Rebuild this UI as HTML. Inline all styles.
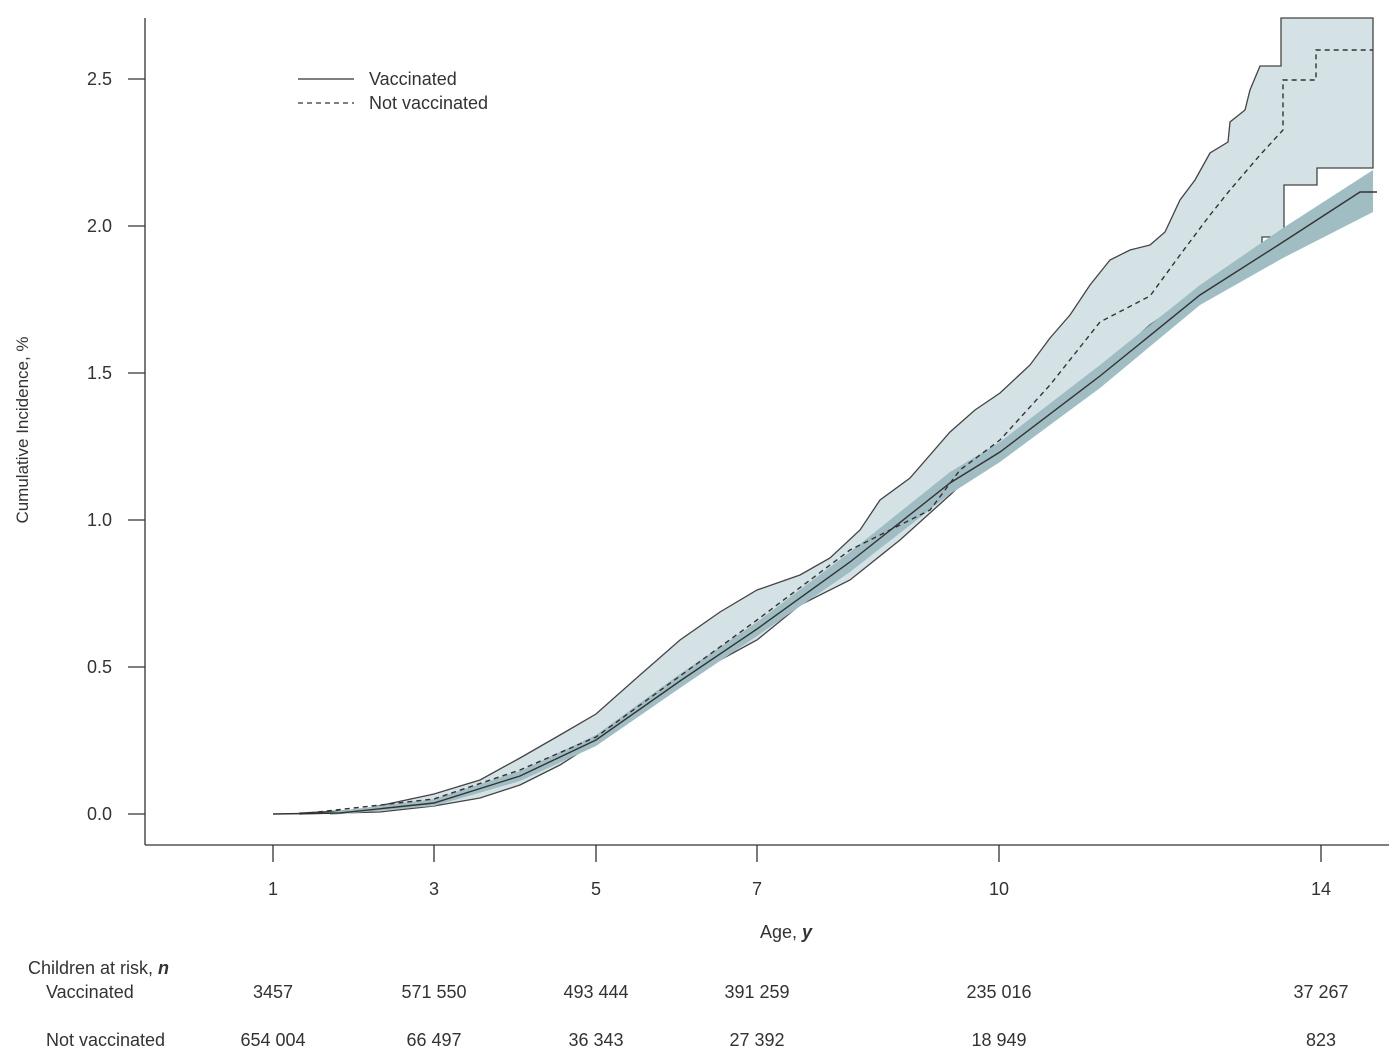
<!DOCTYPE html>
<html><head><meta charset="utf-8"><style>
body{margin:0;background:#fff}
text{font-family:"Liberation Sans",sans-serif;fill:#333}
</style></head><body>
<svg width="1389" height="1055" viewBox="0 0 1389 1055" xmlns="http://www.w3.org/2000/svg">
<!-- not vaccinated CI band -->
<polygon fill="#d5e2e5" stroke="#444" stroke-width="1.3" points="300,813 360,810 434,794 480,780 520,758 560,735 596,714 640,675 680,640 720,612 757,590 800,575 830,558 860,530 880,500 910,478 950,432 975,410 1000,393 1030,365 1050,338 1070,315 1090,285 1110,260 1130,250 1150,245 1165,232 1180,200 1195,180 1210,153 1228,142 1230,122 1245,110 1250,90 1260,66 1281,66 1281,18 1373,18 1373,168 1317,168 1317,185 1284,185 1284,237 1262,237 1262,248 1254,250 1240,260 1200,290 1150,325 1100,370 1050,405 1000,448 950,495 900,540 850,580 800,605 757,640 720,660 680,680 640,705 596,742 560,765 520,785 480,798 434,806 380,812 300,814"/>
<!-- vaccinated CI band -->
<polygon fill="#9fbdc3" points="330,812 434,799 520,771 596,735 680,674 757,622 850,552 950,472 1000,442 1100,365 1200,285 1283,228 1373,170 1373,212 1283,258 1200,305 1100,388 1000,462 950,494 850,572 757,636 680,688 596,746 520,781 434,806 330,815"/>
<!-- vaccinated line -->
<polyline fill="none" stroke="#333" stroke-width="1.4" points="273,814 340,813 434,803 520,776 596,740 680,681 757,629 850,562 950,483 1000,452 1100,376 1200,295 1283,242 1360,192 1377,192"/>
<!-- not vaccinated dashed -->
<polyline fill="none" stroke="#333" stroke-width="1.4" stroke-dasharray="5,4" points="300,814 434,799 520,770 596,737 680,676 757,620 850,550 930,510 960,470 1000,440 1050,385 1100,322 1150,296 1180,255 1210,215 1230,190 1260,155 1283,130 1283,80 1316,80 1316,50 1373,50"/>
<!-- axes -->
<line x1="145" y1="18" x2="145" y2="845" stroke="#333" stroke-width="1.3"/>
<line x1="145" y1="845" x2="1389" y2="845" stroke="#333" stroke-width="1.3"/>
<g stroke="#333" stroke-width="1.3">
<line x1="128" y1="814" x2="145" y2="814"/><line x1="128" y1="667" x2="145" y2="667"/><line x1="128" y1="520" x2="145" y2="520"/><line x1="128" y1="373" x2="145" y2="373"/><line x1="128" y1="226" x2="145" y2="226"/><line x1="128" y1="79" x2="145" y2="79"/>
<line x1="273" y1="845" x2="273" y2="862"/><line x1="434" y1="845" x2="434" y2="862"/><line x1="596" y1="845" x2="596" y2="862"/><line x1="757" y1="845" x2="757" y2="862"/><line x1="999" y1="845" x2="999" y2="862"/><line x1="1321" y1="845" x2="1321" y2="862"/>
</g>
<g font-size="18" text-anchor="end">
<text x="112" y="820">0.0</text><text x="112" y="673">0.5</text><text x="112" y="526">1.0</text><text x="112" y="379">1.5</text><text x="112" y="232">2.0</text><text x="112" y="85">2.5</text>
</g>
<g font-size="18" text-anchor="middle">
<text x="273" y="895">1</text><text x="434" y="895">3</text><text x="596" y="895">5</text><text x="757" y="895">7</text><text x="999" y="895">10</text><text x="1321" y="895">14</text>
<text x="786" y="938">Age, <tspan font-weight="bold" font-style="italic">y</tspan></text>
<text x="273" y="998">3457</text><text x="434" y="998">571 550</text><text x="596" y="998">493 444</text><text x="757" y="998">391 259</text><text x="999" y="998">235 016</text><text x="1321" y="998">37 267</text>
<text x="273" y="1046">654 004</text><text x="434" y="1046">66 497</text><text x="596" y="1046">36 343</text><text x="757" y="1046">27 392</text><text x="999" y="1046">18 949</text><text x="1321" y="1046">823</text>
</g>
<text x="28" y="974" font-size="18">Children at risk, <tspan font-weight="bold" font-style="italic">n</tspan></text>
<text x="46" y="998" font-size="18">Vaccinated</text>
<text x="46" y="1046" font-size="18">Not vaccinated</text>
<text transform="translate(28,430) rotate(-90)" font-size="17" text-anchor="middle">Cumulative Incidence, %</text>
<line x1="298" y1="79" x2="354" y2="79" stroke="#333" stroke-width="1.3"/>
<line x1="298" y1="103" x2="354" y2="103" stroke="#333" stroke-width="1.3" stroke-dasharray="5,4"/>
<text x="369" y="85" font-size="18">Vaccinated</text>
<text x="369" y="109" font-size="18">Not vaccinated</text>
</svg>
</body></html>
